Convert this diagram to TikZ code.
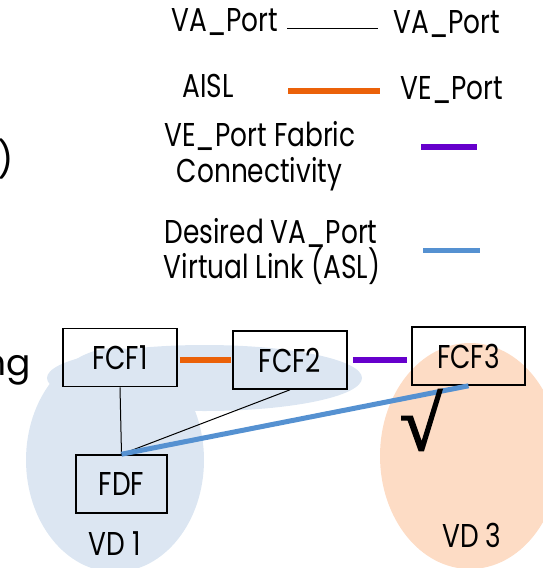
\documentclass[tikz,border=0pt]{standalone}
\usepackage{fontspec}
\setmainfont{Poppins}[FakeStretch=0.8]
\newfontfamily\bodyfont{Poppins}
\newfontfamily\checkfont{Liberation Serif}[FakeBold=2.5]
\definecolor{vdblue}{HTML}{DCE6F2}
\definecolor{vdpeach}{HTML}{FDDCC5}
\definecolor{aislorange}{HTML}{EB6109}
\definecolor{fabpurple}{HTML}{6600CC}
\definecolor{aslblue}{HTML}{5591D1}
\tikzset{
  lbl/.style={font=\fontsize{33}{38}\selectfont, inner sep=0pt, anchor=base},
  fbox/.style={draw=black, line width=1.6pt, minimum height=58pt, inner sep=0pt,
               font=\fontsize{33}{38}\selectfont},
  vaport/.style={draw=black, line width=1pt},
  aisl/.style={draw=aislorange, line width=6pt},
  fabric/.style={draw=fabpurple, line width=5.5pt},
  asl/.style={draw=aslblue, line width=5pt},
}
\begin{document}
\begin{tikzpicture}[x=1pt,y=-1pt]
\useasboundingbox (0,0) rectangle (543,568);

% virtual domains
\fill[vdblue] (115,460) ellipse [x radius=89, y radius=112];
\fill[vdblue] (204.5,378) ellipse [x radius=157.5, y radius=33];
\fill[vdpeach] (470,456) ellipse [x radius=90, y radius=113];

% cut-off text from the surrounding slide
\node[lbl, anchor=base east, font=\bodyfont\fontsize{36}{42}\selectfont] (paren) at (14,172) {)};
\node[lbl, anchor=base east, font=\bodyfont\fontsize{36}{42}\selectfont] (ng) at (31,375) {ng};

% legend
\node[lbl] (lva1) at (225,31) {VA\_Port};
\node[lbl] (lva2) at (447,33) {VA\_Port};
\coordinate (va1) at (287,28);
\coordinate (va2) at (378,28);
\draw[vaport] (va1) -- (va2);

\node[lbl] (laisl) at (208,97) {AISL};
\node[lbl] (lve) at (452,99) {VE\_Port};
\coordinate (ai1) at (288,91);
\coordinate (ai2) at (380,91);
\draw[aisl] (ai1) -- (ai2);

\node[lbl] (lfab1) at (260,146) {VE\_Port Fabric};
\node[lbl] (lfab2) at (259.5,182) {Connectivity};
\coordinate (fb1) at (421,147);
\coordinate (fb2) at (477,147);
\draw[fabric] (fb1) -- (fb2);

\node[lbl] (lasl1) at (271,243) {Desired VA\_Port};
\node[lbl] (lasl2) at (272,278) {Virtual Link (ASL)};
\coordinate (as1) at (423,250);
\coordinate (as2) at (480,250);
\draw[asl] (as1) -- (as2);

% fabric entities
\node[fbox, minimum width=114pt] (fcf1) at (120,357.5) {FCF1};
\node[fbox, minimum width=114pt] (fcf2) at (290,360) {FCF2};
\node[fbox, minimum width=113pt] (fcf3) at (468.5,356) {FCF3};
\node[fbox, minimum width=91pt] (fdf) at (121.5,484) {FDF};

% links
\draw[aisl, shorten <=2pt, shorten >=1pt] (fcf1.east |- fcf2.west) -- (fcf2.west);
\draw[fabric, shorten <=5pt, shorten >=4pt] (fcf2.east) -- (fcf2.east -| fcf3.west);
\draw[vaport] (fcf1.south) -- (fdf.north);
\draw[vaport] (fcf2.south) -- (fdf.north);
\draw[asl] (fcf3.south) -- (fdf.north);

% marks and domain labels
\node[inner sep=0pt, scale=1.9, font=\checkfont\fontsize{40}{44}\selectfont] (chk) at (421,420) {√};
\node[lbl] (vd1) at (115,555) {VD 1};
\node[lbl] (vd3) at (472,547) {VD 3};
\end{tikzpicture}
\end{document}
